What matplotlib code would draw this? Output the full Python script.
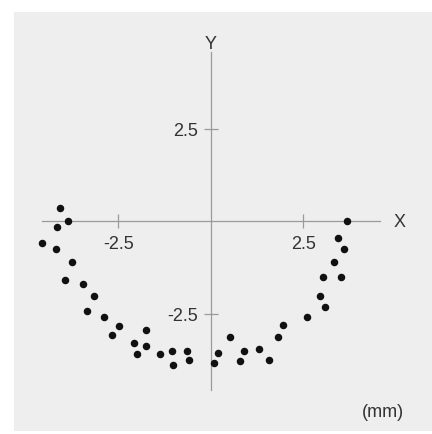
import matplotlib
matplotlib.use("Agg")
import matplotlib.pyplot as plt

plt.rcParams['font.family'] = ['Liberation Sans', 'DejaVu Sans']

# measured points (mm)
xs = [-4.08, -3.86, -4.15, -4.58, -4.18, -3.76, -3.95, -3.45, -3.16, -3.35,
      -2.88, -2.49, -2.68, -1.76, -2.09, -1.76, -1.99, -1.38, -1.05, -0.64,
      -1.02, -0.59, 0.09, 0.20, 0.51, 0.79, 0.90, 1.31, 1.58, 1.81,
      1.95, 2.60, 3.08, 2.95, 3.04, 3.51, 3.32, 3.59, 3.42, 3.68]
ys = [0.35, 0.00, -0.15, -0.59, -0.75, -1.11, -1.60, -1.70, -2.02, -2.42,
      -2.58, -2.84, -3.08, -2.93, -3.30, -3.36, -3.59, -3.59, -3.50, -3.50,
      -3.88, -3.75, -3.84, -3.56, -3.13, -3.78, -3.51, -3.46, -3.74, -3.13,
      -2.79, -2.58, -2.32, -2.02, -1.51, -1.50, -1.11, -0.76, -0.45, 0.00]
ticks = [-2.5, 2.5]
tick_labels = ['-2.5', '2.5']

axis_col = '#9a9a9a'
text_col = '#333333'

fig = plt.figure(figsize=(4.32, 4.35), dpi=100)
ax = fig.add_axes([14 / 432, 3 / 435, 418 / 432, 419 / 435])
ax.set_facecolor('#eeeeee')
ax.set_xlim(-5.324, 5.973)
ax.set_ylim(-5.668, 5.657)

for side in ['top', 'right']:
    ax.spines[side].set_visible(False)
for side in ['left', 'bottom']:
    sp = ax.spines[side]
    sp.set_position(('data', 0))
    sp.set_bounds(-4.57, 4.57)
    sp.set_color(axis_col)
    sp.set_linewidth(0.9)

ax.set_xticks(ticks)
ax.set_xticklabels(tick_labels)
ax.set_yticks(ticks)
ax.set_yticklabels(tick_labels)
ax.tick_params(direction='inout', length=10, width=0.9, color=axis_col,
               labelsize=13, labelcolor=text_col, pad=4)
ax.tick_params(axis='x', pad=5)

ax.plot(xs, ys, 'o', color='#111111', markersize=4.4, zorder=3)

ax.text(5.11, 0, 'X', fontsize=13, color=text_col, ha='center', va='center')
ax.text(0, 4.8, 'Y', fontsize=13, color=text_col, ha='center', va='center')
ax.text(4.65, -5.15, '(mm)', fontsize=13, color=text_col, ha='center', va='center')

fig.savefig('out.png', dpi=100)
